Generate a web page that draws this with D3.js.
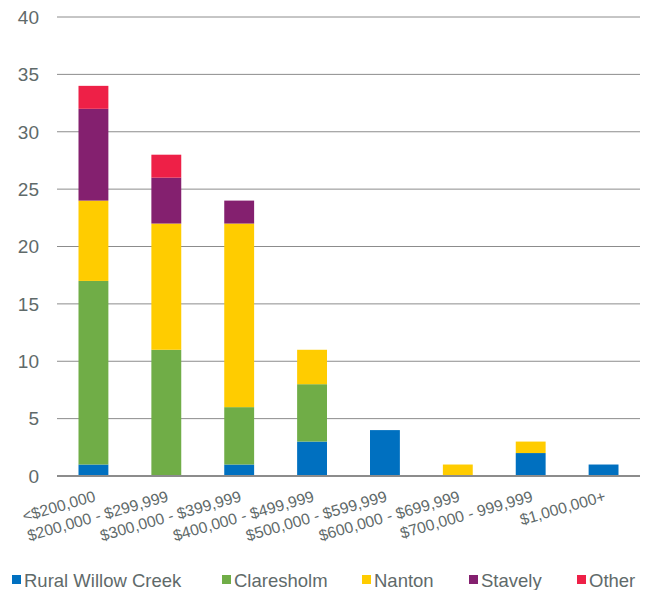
<!DOCTYPE html>
<html>
<head>
<meta charset="utf-8">
<script src="https://cdn.jsdelivr.net/npm/d3@7"></script>
<style>
  body { margin: 0; background: #fff; }
  text { font-family: "Liberation Sans", Arial, sans-serif; fill: #5f6a6a; }
</style>
</head>
<body>
<script>
// price ranges along the bottom
var categories = ["<$200,000", "$200,000 - $299,999", "$300,000 - $399,999", "$400,000 - $499,999",
                  "$500,000 - $599,999", "$600,000 - $699,999", "$700,000 - 999,999", "$1,000,000+"];

// counts per community
var ruralWillowCreek = [1, 0, 1, 3, 4, 0, 2, 1];
var claresholm       = [16, 11, 5, 5, 0, 0, 0, 0];
var nanton           = [7, 11, 16, 3, 0, 1, 1, 0];
var stavely          = [8, 4, 2, 0, 0, 0, 0, 0];
var other            = [2, 2, 0, 0, 0, 0, 0, 0];

var seriesNames = ["Rural Willow Creek", "Claresholm", "Nanton", "Stavely", "Other"];
var seriesColors = ["#0070c0", "#70ad47", "#ffcc00", "#84206f", "#ee2047"];
var yTicks = [0, 5, 10, 15, 20, 25, 30, 35, 40];

var width = 650, height = 590;
var plotLeft = 57, plotRight = 640, plotTop = 17, plotBottom = 476;

// build rows for d3.stack
var rows = categories.map(function(c, i) {
    return {
        cat: c,
        "Rural Willow Creek": ruralWillowCreek[i],
        "Claresholm": claresholm[i],
        "Nanton": nanton[i],
        "Stavely": stavely[i],
        "Other": other[i]
    };
});

var svg = d3.select("body").append("svg")
    .attr("width", width)
    .attr("height", height);

var x = d3.scaleBand()
    .domain(categories)
    .range([plotLeft, plotRight])
    .paddingInner(0.59)
    .paddingOuter(0.295);

var y = d3.scaleLinear()
    .domain([0, 40])
    .range([plotBottom, plotTop]);

// gridlines
svg.append("g")
    .selectAll("line")
    .data(yTicks.filter(function(d) { return d > 0; }))
    .enter().append("line")
    .attr("x1", plotLeft).attr("x2", plotRight)
    .attr("y1", function(d) { return y(d); })
    .attr("y2", function(d) { return y(d); })
    .attr("stroke", "#8c8c8c")
    .attr("stroke-width", 1);

// y labels
svg.append("g")
    .selectAll("text")
    .data(yTicks)
    .enter().append("text")
    .attr("x", 39)
    .attr("y", function(d) { return y(d); })
    .attr("dy", "0.36em")
    .attr("text-anchor", "end")
    .style("font-size", "19px")
    .text(function(d) { return d; });

var stack = d3.stack().keys(seriesNames);
var layers = stack(rows);

svg.append("g")
    .selectAll("g")
    .data(layers)
    .enter().append("g")
    .attr("fill", function(d, i) { return seriesColors[i]; })
    .selectAll("rect")
    .data(function(d) { return d; })
    .enter().append("rect")
    .attr("x", function(d) { return x(d.data.cat); })
    .attr("width", x.bandwidth())
    .attr("y", function(d) { return y(d[1]); })
    .attr("height", function(d) { return y(d[0]) - y(d[1]); });

// baseline
svg.append("line")
    .attr("x1", plotLeft).attr("x2", plotRight)
    .attr("y1", y(0)).attr("y2", y(0))
    .attr("stroke", "#8c8c8c")
    .attr("stroke-width", 2);

// category labels, tilted, ending under each bar
svg.append("g")
    .selectAll("text")
    .data(categories)
    .enter().append("text")
    .attr("transform", function(d) {
        var cx = x(d) + x.bandwidth() / 2 + 3;
        return "translate(" + cx + ",501) rotate(-16)";
    })
    .attr("text-anchor", "end")
    .style("font-size", "15.8px")
    .text(function(d) { return d; });

// legend
var legendX = [12, 222, 362, 469, 577];
var legend = svg.append("g")
    .selectAll("g")
    .data(seriesNames)
    .enter().append("g")
    .attr("transform", function(d, i) { return "translate(" + legendX[i] + ",575)"; });

legend.append("rect")
    .attr("width", 9).attr("height", 9)
    .attr("fill", function(d, i) { return seriesColors[i]; });

legend.append("text")
    .attr("x", 12)
    .attr("y", 12)
    .style("font-size", "18.5px")
    .text(function(d) { return d; });
</script>
</body>
</html>
